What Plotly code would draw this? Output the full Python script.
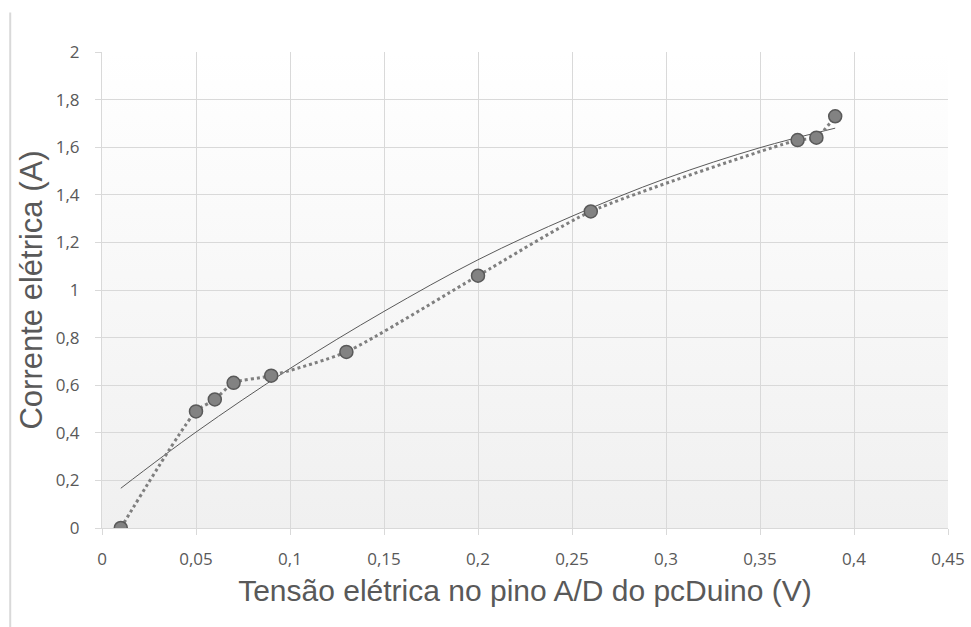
import base64
import plotly.graph_objects as go

# Measured data (V, A)
tensao = [0.01, 0.05, 0.06, 0.07, 0.09, 0.13, 0.20, 0.26, 0.37, 0.38, 0.39]
corrente = [0.0, 0.49, 0.54, 0.61, 0.64, 0.74, 1.06, 1.33, 1.63, 1.64, 1.73]

# Trendline
trend_x = [0.01, 0.05, 0.10, 0.15, 0.20, 0.25, 0.30, 0.35, 0.39]
trend_y = [0.167, 0.403, 0.67, 0.91, 1.127, 1.31, 1.469, 1.598, 1.68]

x_tickvals = [0, 0.05, 0.1, 0.15, 0.2, 0.25, 0.3, 0.35, 0.4, 0.45]
x_ticktext = ["0", "0,05", "0,1", "0,15", "0,2", "0,25", "0,3", "0,35", "0,4", "0,45"]
y_tickvals = [0, 0.2, 0.4, 0.6, 0.8, 1.0, 1.2, 1.4, 1.6, 1.8, 2.0]
y_ticktext = ["0", "0,2", "0,4", "0,6", "0,8", "1", "1,2", "1,4", "1,6", "1,8", "2"]

TXT = "#595959"
GRID = "#d9d9d9"

svg = ('<svg xmlns="http://www.w3.org/2000/svg" width="100" height="100" preserveAspectRatio="none">'
       '<defs><linearGradient id="g" x1="0" y1="0" x2="0" y2="1">'
       '<stop offset="0" stop-color="#ffffff"/><stop offset="1" stop-color="#f0f0f0"/>'
       '</linearGradient></defs><rect width="100" height="100" fill="url(#g)"/></svg>')
uri = "data:image/svg+xml;base64," + base64.b64encode(svg.encode()).decode()

fig = go.Figure()
fig.add_trace(go.Scatter(
    x=trend_x, y=trend_y, mode="lines", line=dict(color="#5a5a5a", width=1, shape="spline"),
    hoverinfo="skip"))
fig.add_trace(go.Scatter(
    x=tensao, y=corrente, mode="lines+markers",
    line=dict(color="#7f7f7f", width=3, dash="dot", shape="spline", smoothing=0.6),
    marker=dict(size=13, color="#828282", line=dict(color="#595959", width=1.5))))

fig.update_layout(
    width=971, height=627,
    margin=dict(l=102, r=23, t=52, b=99),
    paper_bgcolor="white", plot_bgcolor="rgba(0,0,0,0)",
    showlegend=False,
    font=dict(family="Open Sans, sans-serif", color=TXT, size=16),
    images=[dict(source=uri, xref="paper", yref="paper", x=0, y=1, sizex=1, sizey=1,
                 sizing="stretch", xanchor="left", yanchor="top", layer="below")],
    shapes=[dict(type="line", xref="paper", yref="paper", x0=-0.1085, x1=-0.1085,
                 y0=1.083, y1=-0.21, line=dict(color=GRID, width=2))],
)
fig.update_xaxes(
    automargin=False,
    range=[0, 0.45], tickvals=x_tickvals, ticktext=x_ticktext,
    showgrid=True, gridcolor=GRID, gridwidth=1, zeroline=False,
    showline=True, linecolor=GRID, linewidth=1,
    ticks="outside", ticklen=6, tickcolor=GRID, ticklabelstandoff=10,
    tickfont=dict(size=17, color=TXT, family="Open Sans, sans-serif"),
    title=dict(text="Tensão elétrica no pino A/D do pcDuino (V)",
               font=dict(size=30, color=TXT, family="Liberation Sans, Arial, sans-serif"),
               standoff=10))
fig.update_yaxes(
    automargin=False,
    range=[0, 2], tickvals=y_tickvals, ticktext=y_ticktext,
    showgrid=True, gridcolor=GRID, gridwidth=1, zeroline=False,
    showline=True, linecolor=GRID, linewidth=1,
    ticks="outside", ticklen=6, tickcolor=GRID, ticklabelstandoff=12,
    tickfont=dict(size=17, color=TXT, family="Open Sans, sans-serif"),
    title=dict(text="Corrente elétrica (A)",
               font=dict(size=31, color=TXT, family="Liberation Sans, Arial, sans-serif"),
               standoff=3))

fig.write_html("out.html", config={"displayModeBar": False},
               post_script="document.body.style.margin='0px';")
